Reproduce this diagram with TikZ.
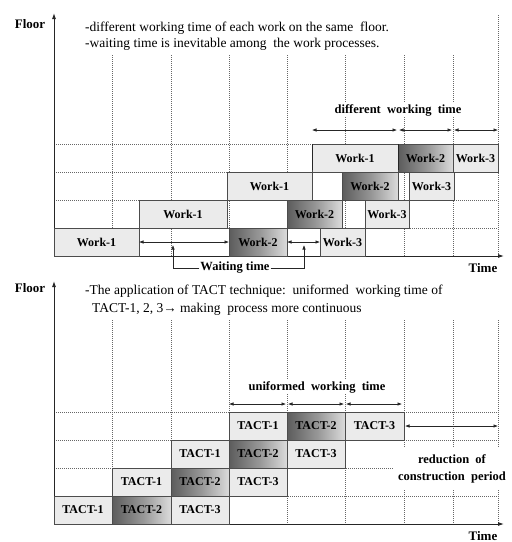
\documentclass[tikz,border=0pt]{standalone}
\usepackage{fontspec}
\setmainfont{Liberation Serif}
\usetikzlibrary{arrows.meta}
\pgfdeclarehorizontalshading{darkgrad}{100bp}{color(0bp)=(black!64); color(25bp)=(black!64); color(52bp)=(black!40); color(75bp)=(black!14); color(100bp)=(black!14)}
\begin{document}
\begin{tikzpicture}[x=1pt,y=-1pt,
  gridline/.style={black!60, line width=0.5pt, dash pattern=on 1pt off 1pt},
  axis/.style={black!85, line width=0.9pt, -{Latex[length=6pt,width=4pt]}},
  wbox/.style={draw=black!70, line width=0.9pt, fill=black!8, minimum height=28pt, inner sep=0pt, outer sep=0pt, font=\fontsize{12}{13}\selectfont\bfseries},
  dbox/.style={wbox, shade, shading=darkgrad, shading angle=0},
  dim/.style={black!85, line width=0.6pt, {Latex[length=4.5pt,width=3.5pt]}-{Latex[length=4.5pt,width=3.5pt]}},
  wline/.style={black!85, line width=0.6pt, -{Latex[length=4.5pt,width=3.5pt]}},
  tick/.style={black!85, line width=0.7pt},
  lab/.style={font=\fontsize{12.5}{14}\selectfont\bfseries},
  axlab/.style={font=\fontsize{13}{15}\selectfont\bfseries},
  desc/.style={font=\fontsize{13.5}{15}\selectfont, anchor=west, inner sep=0pt},
]
\useasboundingbox (0,0) rectangle (512,542);

% ================= TOP DIAGRAM =================
\foreach \x in {112,171,229,287,345,404,453} \draw[gridline] (\x,55) -- (\x,256);
\draw[gridline] (498,15) -- (498,256);
\foreach \y in {144,172,200,228} \draw[gridline] (54,\y) -- (498,\y);

\coordinate (o1) at (54,256);
\coordinate (ytop1) at (54,13);
\coordinate (xend1) at (504,256);
\draw[axis] (o1) -- (ytop1);
\draw[axis] (o1) -- (xend1);
\node[axlab] (floor1) at (30,24) {Floor};
\node[axlab] (time1) at (483,268) {Time};

\node[desc] (d1a) at (85,28) {-different working time of each work on the same\ \ floor.};
\node[desc] (d1b) at (85,44) {-waiting time is inevitable among\ \ the work processes.};

\node[wbox, minimum width=85pt] (t11) at (96.5,242) {Work-1};
\node[dbox, minimum width=58pt] (t12) at (258,242) {Work-2};
\node[wbox, minimum width=45pt] (t13) at (342.5,242) {Work-3};
\node[wbox, minimum width=88pt] (t21) at (183,214) {Work-1};
\node[dbox, minimum width=55pt] (t22) at (314.5,214) {Work-2};
\node[wbox, minimum width=44pt] (t23) at (387,214) {Work-3};
\node[wbox, minimum width=85pt] (t31) at (269.5,186) {Work-1};
\node[dbox, minimum width=56pt] (t32) at (370,186) {Work-2};
\node[wbox, minimum width=45pt] (t33) at (431.5,186) {Work-3};
\node[wbox, minimum width=86pt] (t41) at (355,158) {Work-1};
\node[dbox, minimum width=55pt] (t42) at (425.5,158) {Work-2};
\node[wbox, minimum width=45pt] (t43) at (475.5,158) {Work-3};

\draw[dim] (t11.east) -- (t12.west);
\draw[dim] (t12.east) -- (t13.west);
\node[lab, inner sep=1pt] (wt) at (235,268) {Waiting time};
\coordinate (wa1) at (173,245);
\coordinate (wa2) at (304,245);
\draw[wline] (wt.west) -| (wa1);
\draw[wline] (wt.east) -| (wa2);

\node[lab, fill=white, inner sep=1.5pt] (dwt) at (398,110) {different\ \ working\ \ time};
\draw[tick] (t41.north west) -- ++(0,26);
\draw[tick] (t42.north west) -- ++(0,26);
\draw[dim] ([yshift=14pt]t41.north west) -- ([yshift=14pt,xshift=-1pt]t41.north east);
\draw[dim] ([yshift=14pt,xshift=1pt]t42.north west) -- ([yshift=14pt,xshift=-1pt]t42.north east);
\draw[dim] ([yshift=14pt,xshift=1pt]t43.north west) -- ([yshift=14pt]t43.north east);

% ================= BOTTOM DIAGRAM =================
\foreach \x in {112,171,229,287,345,404,453,498} \draw[gridline] (\x,320) -- (\x,524);
\foreach \y in {412,440,468,496} \draw[gridline] (54,\y) -- (498,\y);

\coordinate (o2) at (54,524);
\coordinate (ytop2) at (54,281);
\coordinate (xend2) at (504,524);
\draw[axis] (o2) -- (ytop2);
\draw[axis] (o2) -- (xend2);
\node[axlab] (floor2) at (30,288) {Floor};
\node[axlab] (time2) at (483,536) {Time};

\node[desc] (d2a) at (85,291) {-The application of TACT technique:\ \ uniformed\ \ working time of};
\node[desc] (d2b) at (92,309) {TACT-1, 2, 3→ making\ \ process more continuous};

\node[lab, fill=white, inner xsep=5pt, inner ysep=6pt, align=center, font=\fontsize{12.5}{17}\selectfont\bfseries] (red) at (452,468.5) {reduction\ \ of\\construction\ \ period};

\node[wbox, minimum width=58pt] (b11) at (83,510) {TACT-1};
\node[dbox, minimum width=59pt] (b12) at (141.5,510) {TACT-2};
\node[wbox, minimum width=58pt] (b13) at (200,510) {TACT-3};
\node[wbox, minimum width=59pt] (b21) at (141.5,482) {TACT-1};
\node[dbox, minimum width=58pt] (b22) at (200,482) {TACT-2};
\node[wbox, minimum width=58pt] (b23) at (258,482) {TACT-3};
\node[wbox, minimum width=58pt] (b31) at (200,454) {TACT-1};
\node[dbox, minimum width=58pt] (b32) at (258,454) {TACT-2};
\node[wbox, minimum width=58pt] (b33) at (316,454) {TACT-3};
\node[wbox, minimum width=58pt] (b41) at (258,426) {TACT-1};
\node[dbox, minimum width=58pt] (b42) at (316,426) {TACT-2};
\node[wbox, minimum width=59pt] (b43) at (374.5,426) {TACT-3};

\node[lab, fill=white, inner sep=1.5pt] (uwt) at (317,387) {uniformed\ \ working\ \ time};
\draw[dim] ([yshift=8pt]b41.north west) -- ([yshift=8pt,xshift=-1pt]b41.north east);
\draw[dim] ([yshift=8pt,xshift=1pt]b42.north west) -- ([yshift=8pt,xshift=-1pt]b42.north east);
\draw[dim] ([yshift=8pt,xshift=1pt]b43.north west) -- ([yshift=8pt,xshift=-2pt]b43.north east);

\coordinate (rend) at (498,426);
\draw[dim] ([xshift=1pt]b43.east) -- (rend);
\end{tikzpicture}
\end{document}
